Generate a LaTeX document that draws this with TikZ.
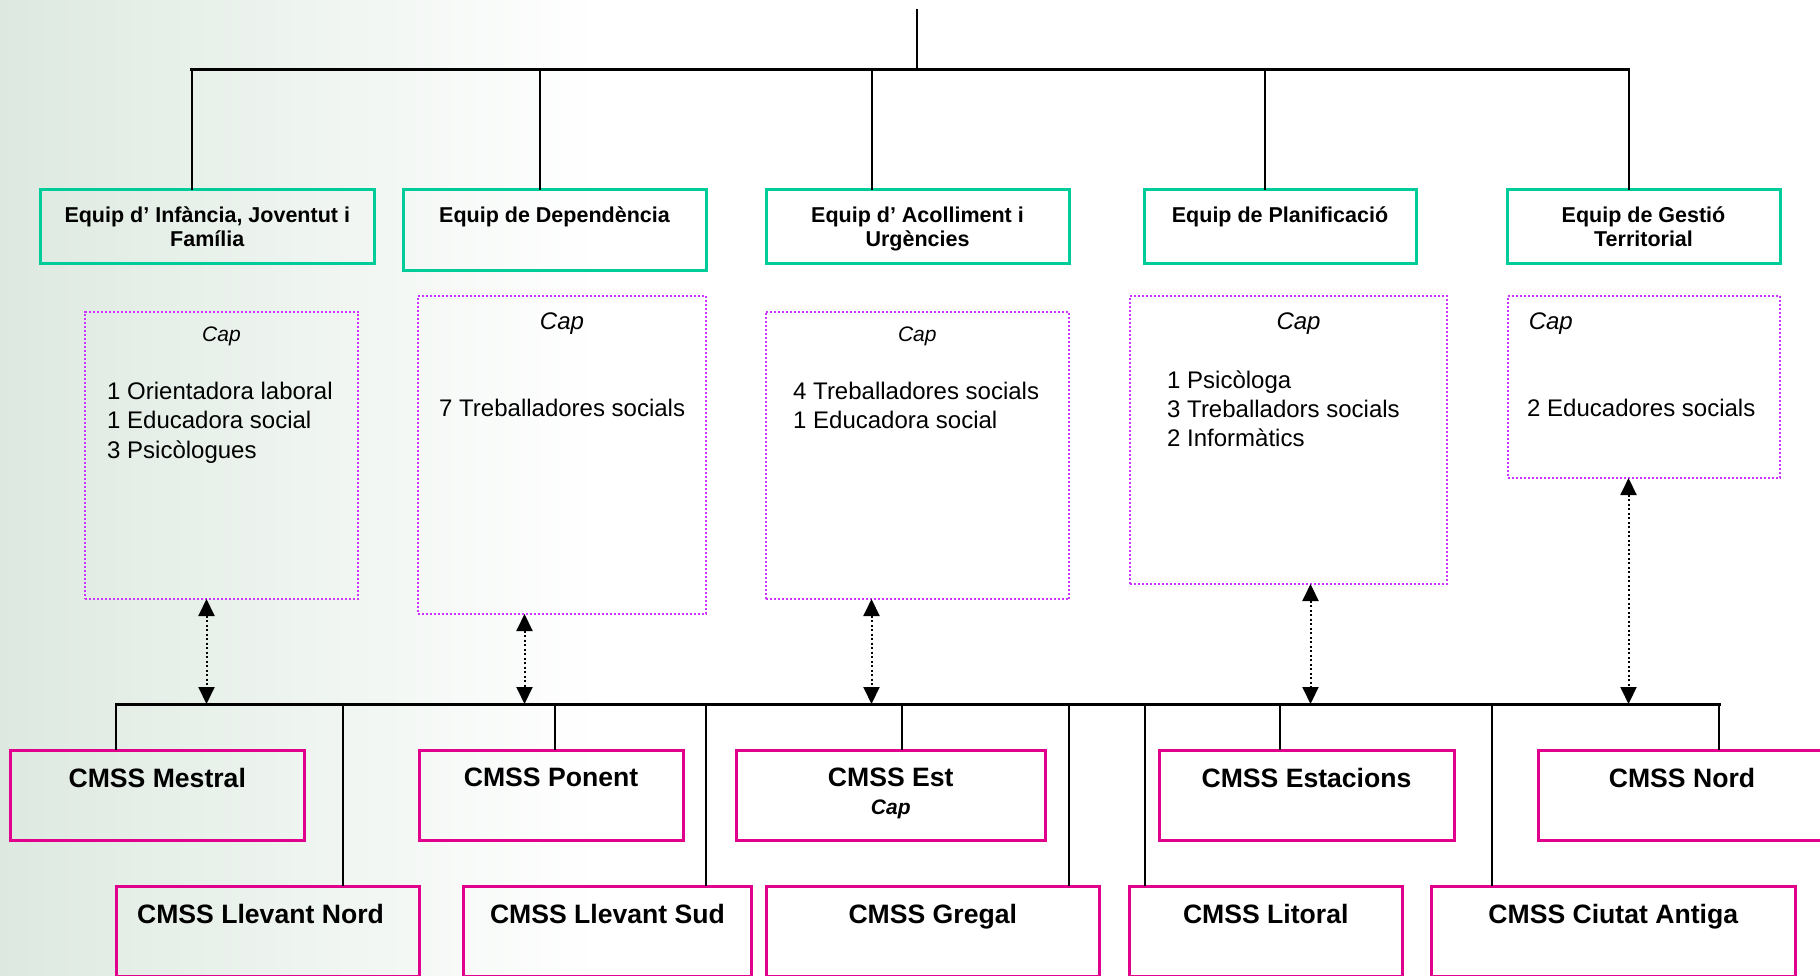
\documentclass[tikz,border=0pt]{standalone}
\usepackage{fontspec}
\setmainfont{Liberation Sans}
\usetikzlibrary{arrows.meta,positioning}
\definecolor{teamgreen}{RGB}{0,204,153}
\definecolor{cmsspink}{RGB}{224,0,140}
\definecolor{staffviolet}{RGB}{204,51,255}
\definecolor{bgleft}{RGB}{221,233,224}

\begin{document}
\begin{tikzpicture}[x=1pt, y=-1pt,
    team/.style = {rectangle, draw=teamgreen, line width=3pt,% boxes of the five teams
                   minimum height=74pt, outer sep=0pt},
   staff/.style = {rectangle, draw=staffviolet, line width=2pt,% dotted boxes with the staff
                   dash pattern=on 2pt off 2pt, outer sep=0pt},
    cmss/.style = {rectangle, draw=cmsspink, line width=3pt,% boxes of the centres
                   minimum height=90pt, outer sep=0pt},
 teamtxt/.style = {inner sep=0pt, align=center, font=\fontsize{21.5}{24.5}\selectfont\bfseries},
 cmsstxt/.style = {inner sep=0pt, font=\fontsize{26.6}{30}\selectfont\bfseries},
    capS/.style = {inner sep=0pt, font=\fontsize{21}{25}\selectfont\itshape},
    capL/.style = {inner sep=0pt, font=\fontsize{24}{29}\selectfont\itshape},
    capB/.style = {inner sep=0pt, font=\fontsize{21}{25}\selectfont\bfseries\itshape},
stafftxt/.style = {inner sep=0pt, align=left, font=\fontsize{24}{29.3}\selectfont},
  branch/.style = {line width=2pt},
     bus/.style = {line width=3pt, line cap=rect},
 liaison/.style = {line width=2pt, dash pattern=on 2pt off 2.5pt,
                   {Triangle[length=17pt,width=16pt]}-{Triangle[length=17pt,width=16pt]}},
                        ]
% background
\useasboundingbox (0,0) rectangle (1820,976);
\fill[white] (0,0) rectangle (1820,976);
\shade[left color=bgleft, right color=white] (0,0) rectangle (600,976);

% teams
\foreach \n/\x/\w in {G1/207.25/333.5, G3/917.5/303, G4/1280/272, G5/1643.5/273}
    \node[team, minimum width=\w pt] (\n) at (\x,227) {};
\node[team, minimum width=303pt, minimum height=80.5pt] (G2) at (554.5,230.25) {};
\node[teamtxt, below=16.5pt of G1.north] (G1-t) {Equip d’ Infància, Joventut i\\Família};
\node[teamtxt, below=16.5pt of G2.north] (G2-t) {Equip de Dependència};
\node[teamtxt, below=16.5pt of G3.north] (G3-t) {Equip d’ Acolliment i\\Urgències};
\node[teamtxt, below=16.5pt of G4.north] (G4-t) {Equip de Planificació};
\node[teamtxt, below=16.5pt of G5.north] (G5-t) {Equip de Gestió\\Territorial};

% staff of each team
\foreach \n/\x/\y/\w/\h in {D1/221.5/455.25/273/287.5, D2/562/455/288/318,
        D3/917.25/455.25/303.5/287.5, D4/1288.5/440/317/288, D5/1644/387/272/182}
    \node[staff, minimum width=\w pt, minimum height=\h pt] (\n) at (\x,\y) {};
\node[capS, below=15.5pt of D1.north] (D1-c) {Cap};
\node[stafftxt, below right=70.5pt and 22pt of D1.north west] (D1-t)
    {1 Orientadora laboral\\1 Educadora social\\3 Psicòlogues};
\node[capL, below=16.4pt of D2.north] (D2-c) {Cap};
\node[stafftxt, below right=102.5pt and 21pt of D2.north west] (D2-t) {7 Treballadores socials};
\node[capS, below=15.5pt of D3.north] (D3-c) {Cap};
\node[stafftxt, below right=70.5pt and 27.5pt of D3.north west] (D3-t)
    {4 Treballadores socials\\1 Educadora social};
\node[capL, below=16.4pt of D4.north, xshift=10pt] (D4-c) {Cap};
\node[stafftxt, below right=74.5pt and 37pt of D4.north west] (D4-t)
    {1 Psicòloga\\3 Treballadors socials\\2 Informàtics};
\node[capL, below right=16.4pt and 20.6pt of D5.north west] (D5-c) {Cap};
\node[stafftxt, below right=102.5pt and 19pt of D5.north west] (D5-t) {2 Educadores socials};

% centres
\foreach \n/\x/\w in {M1/157.25/294.5, M2/551/264, M3/890.75/309.5, M4/1306.5/295, M5/1682/288}
    \node[cmss, minimum width=\w pt] (\n) at (\x,795) {};
\foreach \n/\x/\w in {L1/267.5/303, L2/607.5/288, L3/932.75/333.5, L4/1265.75/272.5, L5/1613.25/363.5}
    \node[cmss, minimum width=\w pt] (\n) at (\x,931) {};
\foreach \n/\t/\s in {M1/Mestral/0, M2/Ponent/0, M3/Est/0, M4/Estacions/0, M5/Nord/0,
        L1/Llevant Nord/-7, L2/Llevant Sud/0, L3/Gregal/0, L4/Litoral/0, L5/Ciutat Antiga/0}
    \node[cmsstxt, below=18pt of \n.north, xshift=\s pt] (\n-t) {CMSS \t};
\node[capB, below=12.7pt of M3-t] (M3-c) {Cap};

% tree above the teams
\coordinate (root) at (917,9);
\foreach \n/\x [count=\i] in {G1/191.5, G2/539.5, G3/871.5, G4/1265, G5/1628.5}{
    \coordinate (t\i) at (\x,70);
    \draw[branch] (\n.north -| t\i) -- (t\i);}
\draw[bus] (t1) -- (t5);
\draw[branch] (root) -- (root |- t1);

% tree above the centres
\foreach \n/\x [count=\i] in {M1/116, L1/342.5, M2/555, L2/706, M3/902,
        L3/1069, L4/1144.5, M4/1280, L5/1492, M5/1719}{
    \coordinate (b\i) at (\x,704);
    \draw[branch] (\n.north -| b\i) -- (b\i);}
\draw[bus] (b1) -- (b10);

% staff <-> centres
\foreach \n/\x [count=\i] in {D1/206.5, D2/524.5, D3/871.5, D4/1310.5, D5/1628.5}{
    \coordinate (a\i) at (\x,704);
    \draw[liaison] (\n.south -| a\i) -- (a\i);}
\end{tikzpicture}
\end{document}
